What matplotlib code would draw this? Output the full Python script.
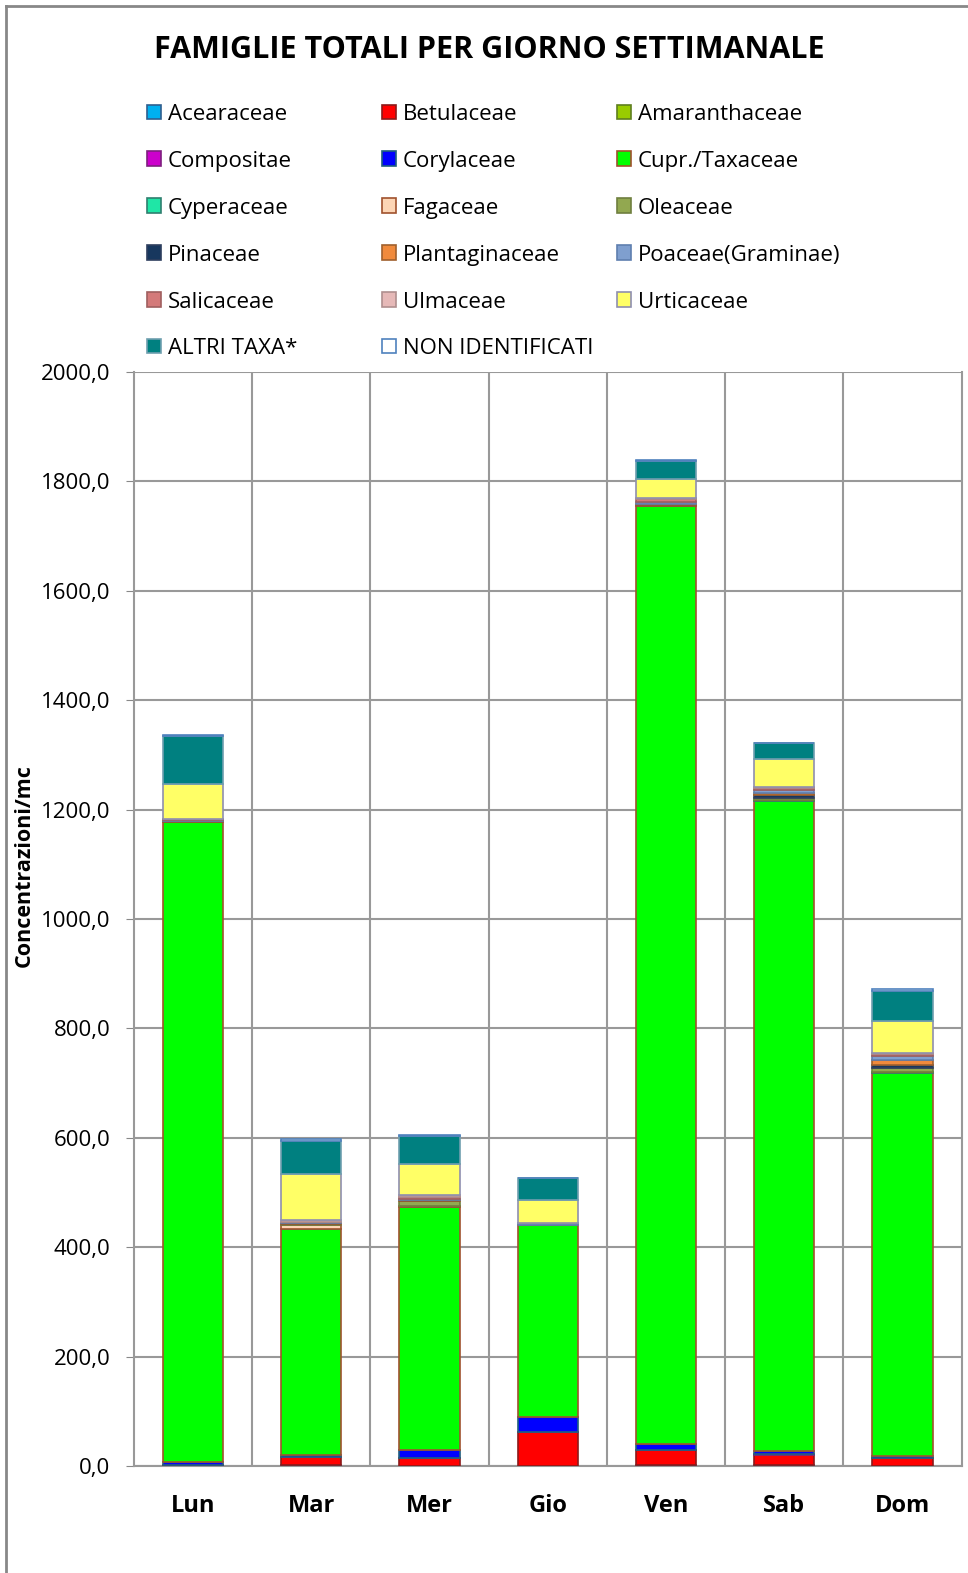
import matplotlib
matplotlib.use('Agg')
import matplotlib.pyplot as plt
from matplotlib.patches import Rectangle
from matplotlib.lines import Line2D
import numpy as np

plt.rcParams['font.family'] = ['Open Sans', 'DejaVu Sans']

# giorni della settimana
giorni = ['Lun', 'Mar', 'Mer', 'Gio', 'Ven', 'Sab', 'Dom']

# famiglie (ordine di impilamento = ordine legenda)
famiglie = ['Acearaceae', 'Betulaceae', 'Amaranthaceae', 'Compositae', 'Corylaceae',
            'Cupr./Taxaceae', 'Cyperaceae', 'Fagaceae', 'Oleaceae', 'Pinaceae',
            'Plantaginaceae', 'Poaceae(Graminae)', 'Salicaceae', 'Ulmaceae',
            'Urticaceae', 'ALTRI TAXA*', 'NON IDENTIFICATI']

# concentrazioni stimate dal grafico
acearaceae     = [0, 1, 0, 0, 1, 1, 0]
betulaceae     = [2, 15, 15, 62, 28, 20, 14]
amaranthaceae  = [0, 0, 0, 0, 0, 0, 0]
compositae     = [0, 0, 0, 0, 1, 1, 0]
corylaceae     = [5, 4, 14, 28, 10, 5, 4]
cupressaceae   = [1171, 413, 444, 350, 1715, 1189, 701]
cyperaceae     = [0, 1, 1, 0, 0, 1, 1]
fagaceae       = [1, 7, 2, 0, 1, 1, 1]
oleaceae       = [1, 2, 8, 0, 1, 4, 7]
pinaceae       = [0, 0, 1, 0, 0, 4, 5]
plantaginaceae = [0, 1, 1, 0, 1, 4, 10]
poaceae        = [1, 2, 3, 4, 4, 5, 6]
salicaceae     = [1, 1, 3, 0, 5, 5, 5]
ulmaceae       = [1, 2, 3, 0, 3, 1, 1]
urticaceae     = [63, 84, 57, 42, 35, 51, 59]
altri_taxa     = [88, 62, 51, 40, 33, 29, 54]
non_identif    = [2, 2, 2, 1, 1, 1, 4]

valori = [acearaceae, betulaceae, amaranthaceae, compositae, corylaceae,
          cupressaceae, cyperaceae, fagaceae, oleaceae, pinaceae,
          plantaginaceae, poaceae, salicaceae, ulmaceae, urticaceae,
          altri_taxa, non_identif]

colori = ['#00B0F0', '#FF0000', '#99CC00', '#CC00CC', '#0000FF', '#00FF00',
          '#1FE6A6', '#FCD5B5', '#92A850', '#17375E', '#F08A3C', '#7F9FCF',
          '#D47A7A', '#E6B9B8', '#FFFF66', '#008080', '#FFFFFF']
bordi = ['#2F5F8F', '#8B1A1A', '#5F7F1F', '#7F1F7F', '#1F5F7F', '#A0522D',
         '#2F7F6F', '#A0522D', '#6F7F3F', '#2F3F5F', '#A0602D', '#5F7FAF',
         '#9F5F5F', '#AF8F8F', '#8F8FAF', '#6F9FAF', '#4F81BD']

W, H = 968, 1573
fig = plt.figure(figsize=(W / 100, H / 100), dpi=100)
ax = fig.add_axes([0.1384, 0.068, 0.855, 0.6955])

x = np.arange(len(giorni))
base = np.zeros(len(giorni))
for nome, val, col, bd in zip(famiglie, valori, colori, bordi):
    val = np.array(val, dtype=float)
    ax.bar(x, val, 0.51, bottom=base, color=col, edgecolor=bd, linewidth=1.2, zorder=3)
    base += val

ax.set_xlim(-0.5, 6.5)
ax.set_ylim(0, 2000)
ax.set_yticks(np.arange(0, 2001, 200))
ax.set_yticklabels(['%d,0' % v for v in np.arange(0, 2001, 200)], fontsize=16)
ax.set_xticks(x)
ax.set_xticklabels(giorni, fontsize=17, fontweight='bold')
ax.set_xticks(np.arange(0.5, 6.5, 1), minor=True)
ax.tick_params(axis='x', which='both', length=0, pad=20)
ax.tick_params(axis='y', length=6, color='#888888', direction='out', pad=11)
ax.grid(True, axis='y', color='#999999', linewidth=1.5, zorder=0)
ax.grid(True, axis='x', which='minor', color='#999999', linewidth=1.5, zorder=0)
for s in ax.spines.values():
    s.set_color('#999999')
    s.set_linewidth(1.5)
ax.spines['top'].set_visible(False)
ax.set_ylabel('Concentrazioni/mc', fontsize=15.5, fontweight='bold')
ax.yaxis.set_label_coords(-0.12, 0.549)

# legenda disegnata a mano: 3 colonne, riempite per riga
col_x = [147, 382, 617]
row_y = [111, 157.5, 204.5, 251.5, 298.5, 345]
for i, (nome, col, bd) in enumerate(zip(famiglie, colori, bordi)):
    r, c = divmod(i, 3)
    px, py = col_x[c], row_y[r] + 1
    fig.add_artist(Rectangle((px / W, 1 - (py + 7) / H), 14 / W, 14 / H,
                             transform=fig.transFigure, facecolor=col,
                             edgecolor=bd, linewidth=1.2))
    fig.text((px + 21) / W, 1 - (py + 3) / H, nome, ha='left', va='center', fontsize=16)

fig.text(0.506, 0.9685, 'FAMIGLIE TOTALI PER GIORNO SETTIMANALE', ha='center', va='center',
         fontsize=22, fontweight='bold')

# cornice grafico
fig.add_artist(Line2D([0.0057, 0.0057], [0, 0.9965], transform=fig.transFigure, color='#888888', linewidth=2))
fig.add_artist(Line2D([0.0057, 1.0], [0.9965, 0.9965], transform=fig.transFigure, color='#888888', linewidth=2))

fig.savefig('out.png', dpi=100)
